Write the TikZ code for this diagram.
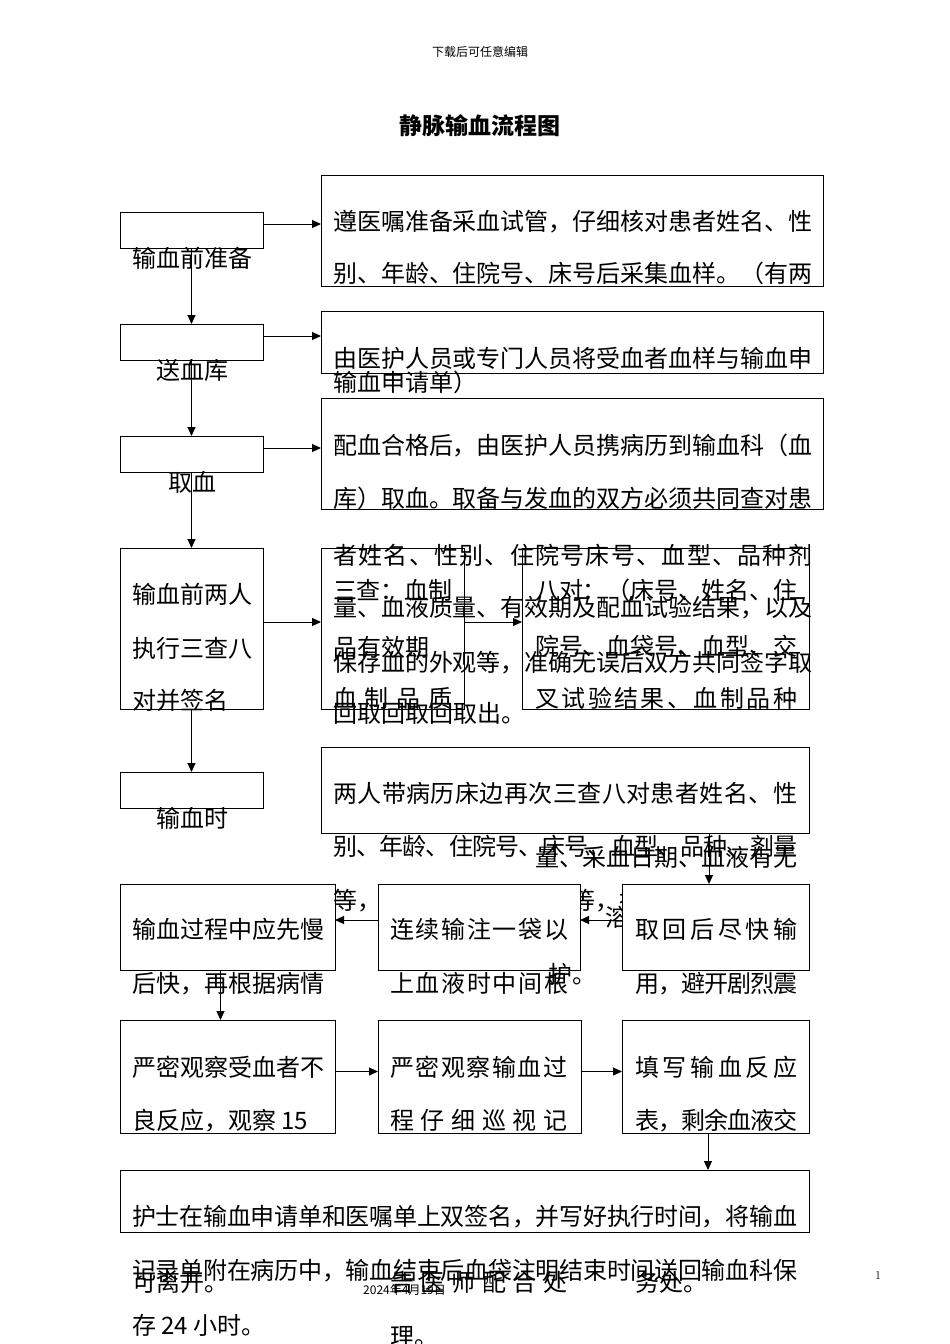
\documentclass[tikz,border=0pt]{standalone}
\usepackage{fontspec}
\newfontfamily\cjk{Noto Sans CJK SC}
\usetikzlibrary{arrows.meta}
\makeatletter
\newcommand\jst@glue{\hskip 0pt plus 1fill minus 2pt\relax}
\newcommand\jst[2]{\makebox[#1][s]{\let\jst@sep\relax\@tfor\jst@c:=#2\do{\jst@sep\jst@c\let\jst@sep\jst@glue}}}
\makeatother
\newcommand\mybox[5]{\node[box,minimum width={#4-#2},minimum height={#5-#3}] (#1) at (#2,#3) {};}
\tikzset{
  box/.style={draw=black, line width=1pt, fill=white, inner sep=0pt, outer sep=0pt, anchor=north west},
  arr/.style={line width=1pt, -{Triangle[length=9pt,width=8pt]}},
  tx/.style={anchor=base west, inner sep=0pt, font=\cjk\fontsize{24}{24}\selectfont},
  lbl/.style={anchor=base, inner sep=0pt, font=\cjk\fontsize{24}{24}\selectfont},
}
\begin{document}
\begin{tikzpicture}[x=1pt,y=-1pt]
\useasboundingbox (0,0) rectangle (950,1344);
\fill[white] (0,0) rectangle (950,1344);
% header, title, footer
\node[anchor=base, inner sep=0pt, font=\cjk\fontsize{12}{12}\selectfont] (hdr) at (480,56) {下载后可任意编辑};
\node[anchor=base, inner sep=0pt, font=\cjk\bfseries\fontsize{23}{23}\selectfont] (title) at (480,134) {静脉输血流程图};
% fragments hidden partly behind boxes
\node[tx] (f1) at (571,909) {等，执};
\node[tx] (f2) at (605,926) {溶};
% boxes
\mybox{b1}{120}{212}{263}{248}
\mybox{b2}{120}{324}{263}{360}
\mybox{b3}{120}{436}{263}{472}
\mybox{b4}{120}{548}{263}{709}
\mybox{b5}{120}{772}{263}{808}
\mybox{r1}{321}{175}{823}{286}
\mybox{r2}{321}{311}{823}{373}
\mybox{r3}{321}{398}{823}{509}
\mybox{m1}{321}{548}{464}{709}
\mybox{m2}{522}{548}{809}{709}
\mybox{r4}{321}{747}{809}{833}
\mybox{c1}{120}{884}{335}{970}
\mybox{c2}{378}{884}{580}{970}
\mybox{c3}{622}{884}{809}{970}
\mybox{d1}{120}{1020}{335}{1133}
\mybox{d2}{378}{1020}{581}{1133}
\mybox{d3}{622}{1020}{809}{1133}
\mybox{e}{120}{1170}{809}{1232}
% connectors
\draw[arr] (b1) -- (b2);
\draw[arr] (b2) -- (b3);
\draw[arr] (b3) -- (b4);
\draw[arr] (b4) -- (b5);
\draw[arr] ([yshift=6pt]b1.east) -- ([yshift=6pt]b1.east -| r1.west);
\draw[arr] ([yshift=6pt]b2.east) -- ([yshift=6pt]b2.east -| r2.west);
\draw[arr] ([yshift=6pt]b3.east) -- ([yshift=6pt]b3.east -| r3.west);
\draw[arr] ([yshift=6.5pt]b4.east) -- ([yshift=6.5pt]b4.east -| m1.west);
\draw[arr] ([yshift=6.5pt]m1.east) -- ([yshift=6.5pt]m1.east -| m2.west);
\draw[arr] ([xshift=-6.5pt]c3.north |- r4.south) -- ([xshift=-6.5pt]c3.north);
\draw[arr] ([yshift=7pt]c3.west) -- ([yshift=7pt]c3.west -| c2.east);
\draw[arr] ([yshift=7pt]c2.west) -- ([yshift=7pt]c2.west -| c1.east);
\draw[arr] ([xshift=-7pt]c1.south) -- ([xshift=-7pt]c1.south |- d1.north);
\draw[arr] ([yshift=5pt]d1.east) -- ([yshift=5pt]d1.east -| d2.west);
\draw[arr] ([yshift=5pt]d2.east) -- ([yshift=5pt]d2.east -| d3.west);
\draw[arr] ([xshift=-7.5pt]d3.south) -- ([xshift=-7.5pt]d3.south |- e.north);
% left column labels
\node[lbl] (lb1) at (192,267) {输血前准备};
\node[lbl] (lb2) at (192,379) {送血库};
\node[lbl] (lb3) at (192,491) {取血};
\node[lbl] (lb5) at (192,827) {输血时};
\node[tx] (t41) at (132,603) {输血前两人};
\node[tx] (t42) at (132,657) {执行三查八};
\node[tx] (t43) at (132,709) {对并签名};
% r1
\node[tx] (t11) at (333,230) {\jst{479pt}{遵医嘱准备采血试管，仔细核对患者姓名、性}};
\node[tx] (t12) at (333,282) {\jst{479pt}{别、年龄、住院号、床号后采集血样。（有两}};
% r2
\node[tx] (t21) at (333,367) {\jst{479pt}{由医护人员或专门人员将受血者血样与输血申}};
\node[tx] (t22) at (333,391) {输血申请单）};
% r3
\node[tx] (t31) at (333,454) {\jst{479pt}{配血合格后，由医护人员携病历到输血科（血}};
\node[tx] (t32) at (333,507) {\jst{479pt}{库）取血。取备与发血的双方必须共同查对患}};
\node[tx] (t33) at (333,564) {\jst{479pt}{者姓名、性别、住院号床号、血型、品种剂}};
\node[tx] (t34) at (333,616) {\jst{479pt}{量、血液质量、有效期及配血试验结果，以及}};
\node[tx] (t35) at (333,671) {\jst{479pt}{保存血的外观等，准确无误后双方共同签字取}};
\node[tx] (t36) at (333,722) {回取回取回取出。};
% m1
\node[tx] (tm11) at (333,599) {\jst{119pt}{三查：血制}};
\node[tx] (tm12) at (333,656) {品有效期};
\node[tx] (tm13) at (333,707) {\jst{119pt}{血制品质}};
% m2
\node[tx] (tm21) at (535,599) {\jst{262pt}{八对：（床号、姓名、住}};
\node[tx] (tm22) at (535,655) {\jst{262pt}{院号、血袋号、血型、交}};
\node[tx] (tm23) at (535,707) {\jst{262pt}{叉试验结果、血制品种}};
\node[tx] (tm24) at (535,866) {\jst{262pt}{量、采血日期、血液有无}};
% r4
\node[tx] (t51) at (333,802) {\jst{464pt}{两人带病历床边再次三查八对患者姓名、性}};
\node[tx] (t52) at (333,855) {\jst{464pt}{别、年龄、住院号、床号、血型、品种、剂量}};
\node[tx] (t53) at (333,909) {等，};
% c row
\node[tx] (tc11) at (132,938) {输血过程中应先慢};
\node[tx] (tc12) at (132,992) {后快，再根据病情};
\node[tx] (tc21) at (390,938) {\jst{178pt}{连续输注一袋以}};
\node[tx] (tc22) at (390,992) {\jst{178pt}{上血液时中间根}};
\node[tx] (tc23) at (548,983) {护。};
\node[tx] (tc31) at (635,938) {\jst{162pt}{取回后尽快输}};
\node[tx] (tc32) at (635,992) {\jst{162pt}{用，避开剧烈震}};
% d row
\node[tx] (td11) at (132,1076) {严密观察受血者不};
\node[tx] (td12) at (132,1129) {良反应，观察 15};
\node[tx] (td13) at (132,1291) {可离开。};
\node[tx] (td21) at (390,1076) {\jst{177pt}{严密观察输血过}};
\node[tx] (td22) at (390,1129) {\jst{177pt}{程仔细巡视记}};
\node[tx] (td23) at (390,1291) {\jst{177pt}{告医师配合处}};
\node[tx] (td24) at (390,1345) {理。};
\node[tx] (td31) at (635,1076) {\jst{162pt}{填写输血反应}};
\node[tx] (td32) at (635,1129) {\jst{162pt}{表，剩余血液交}};
\node[tx] (td33) at (635,1291) {务处。};
% e
\node[tx] (te1) at (132,1225) {\jst{665pt}{护士在输血申请单和医嘱单上双签名，并写好执行时间，将输血}};
\node[tx] (te2) at (132,1279) {\jst{665pt}{记录单附在病历中，输血结束后血袋注明结束时间送回输血科保}};
\node[tx] (te3) at (132,1334) {存 24 小时。};
% footer
\node[anchor=base west, inner sep=0pt, font=\cjk\fontsize{12}{12}\selectfont] (date) at (363,1294) {2024年4月19日};
\node[anchor=base, inner sep=0pt, font=\fontsize{12}{12}\selectfont] (pg) at (878,1279) {1};
\end{tikzpicture}
\end{document}
